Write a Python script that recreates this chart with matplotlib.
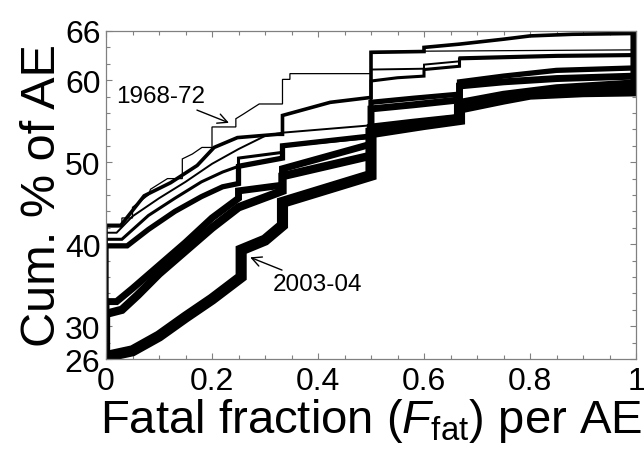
import numpy as np
import matplotlib
matplotlib.use("Agg")
from matplotlib import pyplot as plt
from matplotlib.ticker import MultipleLocator

plt.rcParams['font.family'] = ['Liberation Sans', 'DejaVu Sans']
plt.rcParams['mathtext.fontset'] = 'custom'
plt.rcParams['mathtext.rm'] = 'Liberation Sans'
plt.rcParams['mathtext.it'] = 'Liberation Sans:italic'

# cumulative % of AE vs fatal fraction, one curve per period (thin = oldest, thick = newest)
# each curve starts from the bottom at x=0 and runs off the top at x=1
x1 = [0, 0, 0.03, 0.03, 0.05, 0.05, 0.08, 0.084, 0.116, 0.144, 0.144, 0.163, 0.181, 0.2, 0.2,
      0.245, 0.245, 0.26, 0.272, 0.289, 0.333, 0.333, 0.347, 0.347, 0.5, 0.5, 1, 1]
y1 = [26, 42.1, 42.1, 43.2, 43.2, 44.5, 46.0, 46.7, 48.0, 48.0, 50.4, 51.0, 51.8, 51.8, 54.3,
      54.3, 55.3, 55.9, 56.4, 57.1, 57.1, 60.1, 60.1, 60.8, 60.8, 63.5, 63.7, 100]

x2 = [0, 0, 0.028, 0.072, 0.122, 0.172, 0.204, 0.248, 0.323, 0.333, 0.333, 0.423, 0.5, 0.5,
      0.6, 0.6, 0.667, 0.75, 0.8, 0.88, 1, 1]
y2 = [26, 42.3, 42.3, 45.9, 47.5, 49.6, 51.8, 53.0, 53.4, 53.4, 55.7, 57.3, 57.9, 63.4,
      63.5, 64.0, 64.4, 65.0, 65.4, 65.6, 65.7, 100]

x3 = [0, 0, 0.02, 0.05, 0.1, 0.15, 0.2, 0.25, 0.3, 0.333, 0.5, 0.5, 0.6, 0.6, 0.667, 0.667,
      0.85, 1, 1]
y3 = [26, 41.4, 41.4, 43.4, 45.6, 47.6, 49.8, 51.6, 53.2, 53.6, 54.5, 61.3, 61.4, 61.9, 62.3, 62.8,
      63.1, 63.2, 100]

x4 = [0, 0, 0.03, 0.08, 0.13, 0.18, 0.22, 0.25, 0.25, 0.333, 0.333, 0.5, 0.5, 0.55, 0.6, 0.6,
      0.667, 0.667, 0.85, 1, 1]
y4 = [26, 40.6, 40.6, 43.5, 45.6, 47.6, 48.8, 49.5, 50.5, 51.2, 52.0, 53.0, 59.9, 60.3, 60.5, 61.3,
      61.7, 62.6, 62.9, 63.0, 100]

x5 = [0, 0, 0.04, 0.08, 0.13, 0.18, 0.22, 0.25, 0.25, 0.333, 0.333, 0.5, 0.5, 0.58, 0.667, 0.667,
      0.75, 0.85, 1, 1]
y5 = [26, 39.8, 39.8, 41.8, 44.0, 45.8, 47.0, 47.4, 49.5, 50.5, 52.0, 53.2, 57.3, 57.8, 58.3, 59.8,
      60.5, 61.2, 61.5, 100]

x6 = [0, 0, 0.02, 0.05, 0.1, 0.15, 0.2, 0.25, 0.25, 0.333, 0.333, 0.5, 0.5, 0.58, 0.667, 0.667,
      0.75, 0.85, 1, 1]
y6 = [26, 33.0, 33.0, 34.6, 37.4, 40.2, 43.2, 45.6, 46.5, 47.2, 49.2, 52.2, 56.5, 57.0, 57.6, 59.3,
      59.8, 60.2, 60.5, 100]

x7 = [0, 0, 0.03, 0.06, 0.1, 0.15, 0.2, 0.25, 0.333, 0.333, 0.5, 0.5, 0.58, 0.667, 0.667,
      0.75, 0.85, 1, 1]
y7 = [26, 31.5, 32.0, 33.8, 36.4, 39.2, 42.0, 44.5, 46.5, 48.3, 50.8, 54.2, 54.8, 55.4, 57.2,
      58.2, 59.0, 59.6, 100]

x8 = [0, 0, 0.05, 0.1, 0.15, 0.2, 0.255, 0.255, 0.3, 0.333, 0.333, 0.5, 0.5, 0.6, 0.667, 0.667,
      0.75, 0.8, 0.9, 1, 1]
y8 = [26, 26.3, 27.0, 28.8, 31.1, 33.3, 36.0, 39.3, 40.5, 42.3, 45.1, 48.4, 53.6, 54.6, 55.2, 56.6,
      57.7, 58.3, 58.6, 58.7, 100]

curves = [(x1, y1), (x2, y2), (x3, y3), (x4, y4), (x5, y5), (x6, y6), (x7, y7), (x8, y8)]
widths = [0.9, 2.6, 1.4, 2.2, 3.8, 5.0, 6.0, 8.0]

fig = plt.figure(figsize=(6.44, 4.6), dpi=100)
ax = fig.add_axes([106 / 644, 1 - 360 / 460, 530 / 644, 328 / 460])

for (xs, ys), lw in zip(curves, widths):
    ax.plot(xs, ys, color='black', lw=lw, solid_joinstyle='miter')

ax.set_xlim(0, 1)
ax.set_ylim(26, 66)
ax.set_xticks([0, 0.2, 0.4, 0.6, 0.8, 1])
ax.set_xticklabels(['0', '0.2', '0.4', '0.6', '0.8', '1'])
ax.set_yticks([26, 30, 40, 50, 60, 66])
ax.xaxis.set_minor_locator(MultipleLocator(0.05))
ax.yaxis.set_minor_locator(MultipleLocator(2))
ax.tick_params(which='both', direction='in', top=True, right=True,
               color='#808080', width=0.8)
ax.tick_params(which='major', length=4, labelsize=23)
ax.tick_params(axis='x', which='major', pad=5)
ax.tick_params(axis='y', which='major', pad=4)
ax.tick_params(which='minor', length=3)
for s in ax.spines.values():
    s.set_color('#808080')
    s.set_linewidth(0.9)

ax.set_xlabel(r'Fatal fraction ($\mathit{F}_{\mathrm{fat}}$) per AE', fontsize=34, labelpad=0)
ax.set_ylabel('Cum. % of AE', fontsize=35, labelpad=0)

ax.annotate('1968-72', xy=(0.232, 54.8), xytext=(0.02, 58.1), fontsize=17.5,
            va='center', ha='left',
            arrowprops=dict(arrowstyle='->', color='black', lw=1, shrinkA=1, shrinkB=0))
ax.annotate('2003-04', xy=(0.272, 38.4), xytext=(0.315, 35.1), fontsize=17.5,
            va='center', ha='left',
            arrowprops=dict(arrowstyle='->', color='black', lw=1, shrinkA=1, shrinkB=0))

fig.savefig('out.png', dpi=100)
